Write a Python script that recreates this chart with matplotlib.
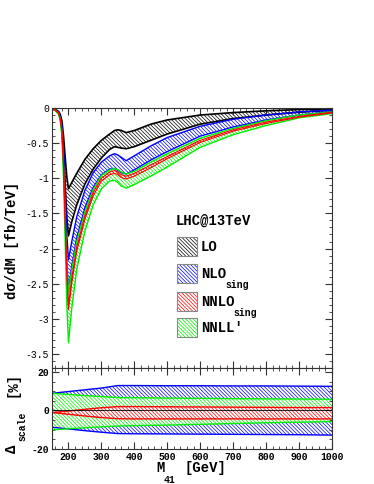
import matplotlib
matplotlib.use('Agg')
import matplotlib.pyplot as plt
import numpy as np
from matplotlib.patches import Rectangle
from matplotlib.ticker import MultipleLocator, FuncFormatter

plt.rcParams['font.family'] = ['Liberation Mono', 'DejaVu Sans Mono']
plt.rcParams['axes.unicode_minus'] = False
plt.rcParams['hatch.linewidth'] = 0.5

# invariant mass grid (GeV) for the distribution
M = [150, 160, 170, 175, 180, 185, 190, 195, 200, 210, 225, 250, 275, 300,
     325, 340, 350, 360, 375, 400, 450, 500, 600, 700, 800, 900, 1000]

# dsigma/dM [fb/TeV], upper/lower edge of each scale band
lo_up = [-0.01, -0.02, -0.05, -0.09, -0.18, -0.40, -0.70, -0.98, -1.15, -1.06, -0.93, -0.73, -0.58, -0.46,
         -0.37, -0.32, -0.31, -0.32, -0.35, -0.32, -0.23, -0.17, -0.10, -0.065, -0.04, -0.022, -0.012]
lo_dn = [-0.01, -0.03, -0.07, -0.13, -0.28, -0.62, -1.10, -1.55, -1.82, -1.62, -1.38, -1.08, -0.87, -0.71,
         -0.59, -0.55, -0.56, -0.57, -0.58, -0.55, -0.46, -0.37, -0.23, -0.15, -0.10, -0.06, -0.03]
nlo_up = [-0.01, -0.025, -0.06, -0.12, -0.25, -0.60, -1.20, -1.80, -2.16, -1.90, -1.55, -1.17, -0.92, -0.77,
          -0.68, -0.65, -0.67, -0.70, -0.75, -0.68, -0.54, -0.42, -0.26, -0.16, -0.10, -0.055, -0.03]
nlo_dn = [-0.01, -0.03, -0.07, -0.14, -0.30, -0.75, -1.50, -2.20, -2.61, -2.25, -1.85, -1.42, -1.13, -0.95,
          -0.87, -0.86, -0.89, -0.92, -0.94, -0.88, -0.74, -0.62, -0.40, -0.27, -0.17, -0.10, -0.05]
nnlo_up = [-0.01, -0.03, -0.07, -0.15, -0.31, -0.78, -1.58, -2.32, -2.80, -2.42, -1.98, -1.53, -1.20, -1.00,
           -0.91, -0.89, -0.91, -0.95, -0.97, -0.93, -0.81, -0.69, -0.46, -0.31, -0.20, -0.12, -0.06]
nnlo_dn = [-0.01, -0.03, -0.07, -0.16, -0.33, -0.82, -1.64, -2.40, -2.87, -2.49, -2.04, -1.58, -1.25, -1.04,
           -0.95, -0.93, -0.95, -0.99, -1.01, -0.97, -0.85, -0.72, -0.49, -0.33, -0.22, -0.13, -0.07]
nnll_up = [-0.01, -0.03, -0.07, -0.15, -0.33, -0.82, -1.55, -2.25, -2.62, -2.30, -1.90, -1.47, -1.16, -0.96,
           -0.88, -0.86, -0.88, -0.91, -0.94, -0.90, -0.77, -0.65, -0.43, -0.29, -0.18, -0.10, -0.055]
nnll_dn = [-0.015, -0.04, -0.09, -0.18, -0.40, -1.00, -1.90, -2.80, -3.34, -2.85, -2.30, -1.75, -1.38, -1.15,
           -1.04, -1.03, -1.06, -1.11, -1.14, -1.09, -0.97, -0.84, -0.56, -0.38, -0.25, -0.14, -0.08]

# relative scale uncertainty [%]
Mb = [150, 200, 250, 300, 350, 400, 500, 600, 700, 800, 900, 1000]
d_nlo_up = [8.9, 9.8, 10.7, 11.6, 12.9, 12.9, 12.8, 12.8, 12.7, 12.7, 12.6, 12.5]
d_nlo_dn = [-8.7, -9.6, -10.5, -11.3, -12.0, -12.1, -12.2, -12.3, -12.4, -12.5, -12.6, -12.8]
d_nnll_up = [8.9, 8.3, 7.7, 7.2, 6.7, 6.6, 6.4, 6.3, 6.1, 6.0, 5.9, 5.8]
d_nnll_dn = [-10.1, -9.5, -9.0, -8.5, -8.1, -7.9, -7.6, -7.2, -6.8, -6.4, -6.1, -5.8]
d_nnlo_up = [-1.1, -0.3, 0.6, 1.4, 2.0, 2.0, 1.9, 1.8, 1.7, 1.6, 1.5, 1.5]
d_nnlo_dn = [-1.1, -2.0, -2.9, -3.7, -4.3, -4.4, -4.4, -4.4, -4.4, -4.4, -4.4, -4.4]

W, H = 374, 484
def fx(px):
    return px / W
def fy(py):
    return 1 - py / H

fig = plt.figure(figsize=(3.74, 4.84), dpi=100)
ax = fig.add_axes([fx(52), fy(368), fx(332) - fx(52), fy(108) - fy(368)])
axb = fig.add_axes([fx(52), fy(449), fx(332) - fx(52), fy(368) - fy(449)])

HATCH = '\\' * 9
GREEN = '#00ee00'

def band(a, x, up, dn, col, face='none', lw=1.0):
    a.fill_between(x, up, dn, facecolor=face, edgecolor=col, hatch=HATCH, linewidth=0)
    a.plot(x, up, color=col, lw=lw)
    a.plot(x, dn, color=col, lw=lw)

# top panel
band(ax, M, lo_up, lo_dn, 'black', lw=1.2)
band(ax, M, nlo_up, nlo_dn, 'blue')
band(ax, M, nnll_up, nnll_dn, GREEN)
band(ax, M, nnlo_up, nnlo_dn, 'red', lw=0.8)

ax.set_xlim(150, 1000)
ax.set_ylim(-3.7, 0)
ax.yaxis.set_major_locator(MultipleLocator(0.5))
ax.yaxis.set_minor_locator(MultipleLocator(0.1))
ax.yaxis.set_major_formatter(FuncFormatter(lambda v, p: '%g' % v))
ax.xaxis.set_major_locator(MultipleLocator(100))
ax.xaxis.set_minor_locator(MultipleLocator(20))
ax.tick_params(labelbottom=False)

# bottom panel
band(axb, Mb, d_nlo_up, d_nlo_dn, 'blue', face='white')
band(axb, Mb, d_nnll_up, d_nnll_dn, GREEN, face='white')
band(axb, Mb, d_nnlo_up, d_nnlo_dn, 'red', face='white')
axb.axhline(0, color='black', lw=0.6)
axb.set_xlim(150, 1000)
axb.set_ylim(-20, 22)
axb.yaxis.set_major_locator(MultipleLocator(20))
axb.yaxis.set_minor_locator(MultipleLocator(5))
axb.xaxis.set_major_locator(MultipleLocator(100))
axb.xaxis.set_minor_locator(MultipleLocator(20))

for a in (ax, axb):
    a.tick_params(which='both', direction='in', top=True, right=True, color='#333333')
    a.tick_params(which='major', length=5, width=0.8, labelsize=7, pad=2)
    a.tick_params(which='minor', length=2.5, width=0.6)
    for s in a.spines.values():
        s.set_linewidth(0.8)
        s.set_color('#333333')
for lab in axb.get_xticklabels() + axb.get_yticklabels():
    lab.set_fontweight('bold')

# axis labels
fig.text(fx(12), fy(240), 'd\u03c3/dM [fb/TeV]', rotation=90, ha='center', va='center',
         fontsize=10, fontweight='bold')
fig.text(fx(12), fy(449), '\u0394', rotation=90, ha='center', va='center', fontsize=10, fontweight='bold')
fig.text(fx(22), fy(426), 'scale', rotation=90, ha='center', va='center', fontsize=7, fontweight='bold')
fig.text(fx(12), fy(384), '[%]', rotation=90, ha='center', va='center', fontsize=10, fontweight='bold')
fig.text(fx(161), fy(468), 'M', ha='center', va='center', fontsize=10, fontweight='bold')
fig.text(fx(170), fy(480), '41', ha='center', va='center', fontsize=7, fontweight='bold')
fig.text(fx(205), fy(468), '[GeV]', ha='center', va='center', fontsize=10, fontweight='bold')

# legend
fig.text(fx(176), fy(221), 'LHC@13TeV', ha='left', va='center', fontsize=10, fontweight='bold')
entries = [('LO', None, 'black', 237), ('NLO', 'sing', 'blue', 264),
           ('NNLO', 'sing', 'red', 292), ("NNLL'", None, GREEN, 318)]
for name, sub, col, top in entries:
    box = (fx(177), fy(top + 19))
    bw, bh = fx(197) - fx(177), fy(top) - fy(top + 19)
    fig.add_artist(Rectangle(box, bw, bh, transform=fig.transFigure, facecolor='white',
                             edgecolor=col, hatch=HATCH, linewidth=0))
    fig.add_artist(Rectangle(box, bw, bh, transform=fig.transFigure, facecolor='none',
                             edgecolor='#888888', linewidth=0.8))
    fig.text(fx(201), fy(top + 10), name, ha='left', va='center', fontsize=10, fontweight='bold')
    if sub:
        fig.text(fx(201 + 8.2 * len(name)), fy(top + 21), sub, ha='left', va='center',
                 fontsize=7, fontweight='bold')

fig.savefig('out.png', dpi=100)
